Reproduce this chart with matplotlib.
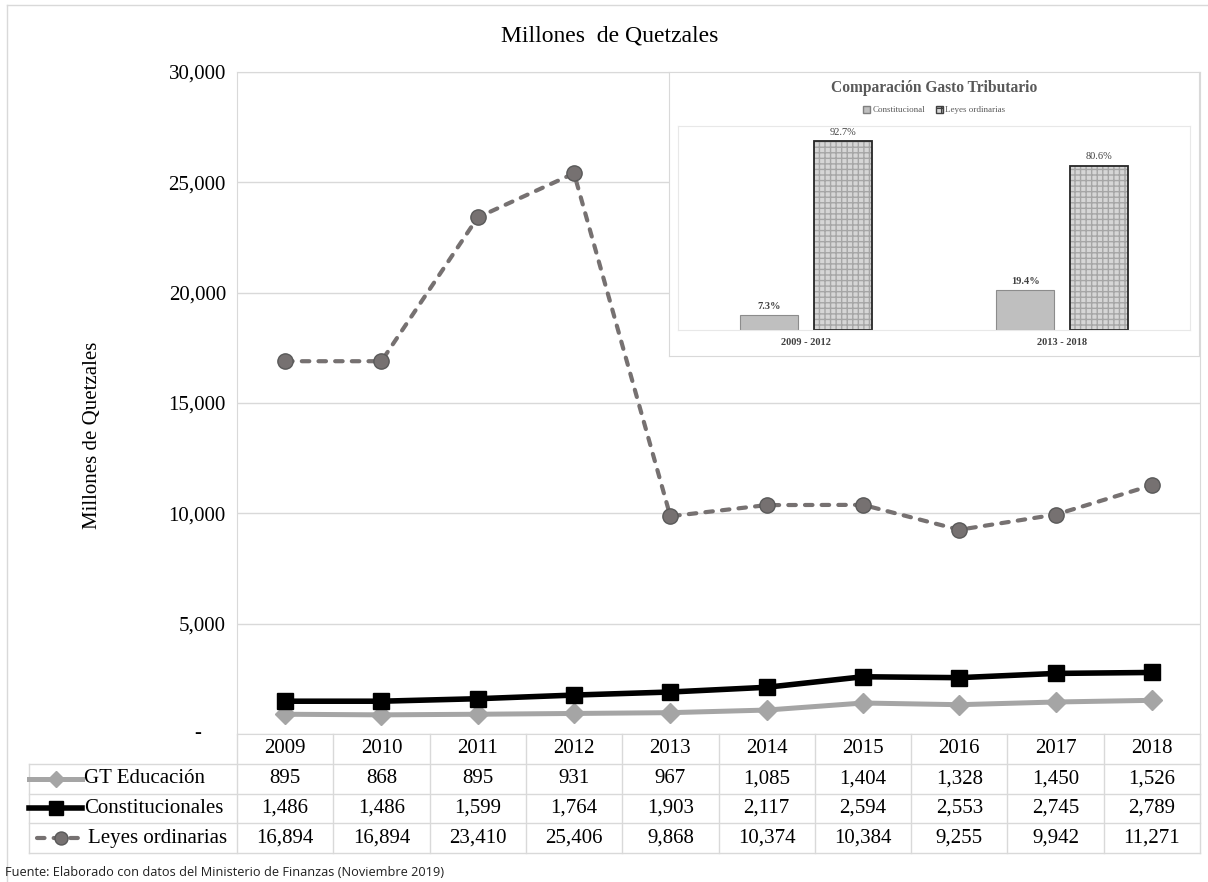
import numpy as np
import matplotlib.pyplot as plt
from matplotlib.lines import Line2D
from matplotlib.patches import Patch
from matplotlib.ticker import FuncFormatter, MultipleLocator

# --- data ---
years = ['2009', '2010', '2011', '2012', '2013', '2014', '2015', '2016', '2017', '2018']
gt_educacion = [895, 868, 895, 931, 967, 1085, 1404, 1328, 1450, 1526]
constitucionales = [1486, 1486, 1599, 1764, 1903, 2117, 2594, 2553, 2745, 2789]
leyes_ordinarias = [16894, 16894, 23410, 25406, 9868, 10374, 10384, 9255, 9942, 11271]

periodos = ['2009 - 2012', '2013 - 2018']
pct_constitucional = [7.3, 19.4]
pct_leyes = [92.7, 80.6]

W, H = 1208, 882


def box(x0, y0, x1, y1):
    """pixel box (top-left origin) -> figure rect"""
    return [x0 / W, 1 - y1 / H, (x1 - x0) / W, (y1 - y0) / H]


plt.rcParams['font.family'] = ['Liberation Serif', 'DejaVu Serif']
fig = plt.figure(figsize=(W / 100, H / 100), dpi=100)

# outer chart frame
fig.add_artist(Line2D([7 / W, 7 / W], [0, 1 - 5 / H], color='#d9d9d9', lw=1, transform=fig.transFigure))
fig.add_artist(Line2D([7 / W, 1], [1 - 5 / H, 1 - 5 / H], color='#d9d9d9', lw=1, transform=fig.transFigure))

# --- main line chart ---
AX_L, AX_T, AX_R, AX_B = 237, 72, 1200, 734
ax = fig.add_axes(box(AX_L, AX_T, AX_R, AX_B))
x = np.arange(len(years))

styles = {
    'GT Educación': dict(color='#a5a5a5', lw=3.6, marker='D', ms=10, mfc='#a5a5a5', mec='#a5a5a5'),
    'Constitucionales': dict(color='black', lw=4, marker='s', ms=12, mfc='black', mec='black'),
    'Leyes ordinarias': dict(color='#767171', lw=3, ls=(0, (1.8, 2.2)), dash_capstyle='round',
                             marker='o', ms=11, mfc='#767171', mec='#595959', mew=1),
}
series = [('GT Educación', gt_educacion), ('Constitucionales', constitucionales),
          ('Leyes ordinarias', leyes_ordinarias)]
for name, vals in series:
    ax.plot(x, vals, zorder=3, **styles[name])

ax.set_xlim(-0.5, len(years) - 0.5)
ax.set_ylim(0, 30000)
ax.yaxis.set_major_locator(MultipleLocator(5000))
ax.yaxis.set_major_formatter(FuncFormatter(lambda v, p: f'{int(v):,}' if v else ''))
ax.grid(axis='y', color='#d9d9d9', lw=1)
ax.set_axisbelow(True)
ax.set_xticks([])
ax.tick_params(axis='y', length=0, pad=8, labelsize=15)
for sp in ax.spines.values():
    sp.set_color('#d9d9d9')
ax.text((198 - AX_L) / (AX_R - AX_L), 0, '-', transform=ax.get_yaxis_transform(),
        ha='center', va='center', fontsize=15)

# --- data table under the chart ---
row_h = 29.75 / (AX_B - AX_T)
lab_x0 = (29 - AX_L) / (AX_R - AX_L)
tcol = '#d9d9d9'
xt = ax.get_xaxis_transform()
kw = dict(color=tcol, lw=1, clip_on=False)
for k in range(1, 5):
    ax.plot([lab_x0, 1], [-k * row_h] * 2, transform=ax.transAxes, **kw)
ax.plot([lab_x0, lab_x0], [-row_h, -4 * row_h], transform=ax.transAxes, **kw)
for i in range(len(years) + 1):
    ax.plot([i - 0.5] * 2, [0, -4 * row_h], transform=xt, **kw)

for i, yr in enumerate(years):
    ax.text(i, -0.5 * row_h, yr, transform=xt, ha='center', va='center', fontsize=15)
for r, (name, vals) in enumerate(series, start=1):
    yc = -(r + 0.5) * row_h
    for i, v in enumerate(vals):
        ax.text(i, yc, f'{v:,}', transform=xt, ha='center', va='center', fontsize=15)
    # legend key in row label
    k0 = (29 - AX_L) / (AX_R - AX_L)
    k1 = (82 - AX_L) / (AX_R - AX_L)
    st = dict(styles[name])
    st['ms'] = st['ms'] * 0.85
    if name == 'Leyes ordinarias':
        k0 = (37 - AX_L) / (AX_R - AX_L)
        k1 = (85 - AX_L) / (AX_R - AX_L)
    km = (k0 + k1) / 2
    ax.plot([k0, km, k1], [yc] * 3, transform=ax.transAxes, clip_on=False, markevery=[1], **st)
    tx = (84 if name != 'Leyes ordinarias' else 88)
    ax.text((tx - AX_L) / (AX_R - AX_L), yc, name, transform=ax.transAxes,
            ha='left', va='center', fontsize=15)

# titles
fig.text(610 / W, 1 - 36 / H, 'Millones  de Quetzales', ha='center', va='center', fontsize=17)
fig.text(93 / W, 1 - 435 / H, 'Millones de Quetzales', ha='center', va='center',
         rotation=90, fontsize=15)
fig.text(5 / W, 1 - 872 / H, 'Fuente: Elaborado con datos del Ministerio de Finanzas (Noviembre 2019)',
         family='Open Sans', fontsize=9.2, color='#202020', ha='left', va='center')

# --- inset bar chart ---
bg = fig.add_axes(box(669, 72, 1199, 356), zorder=3)
bg.set_xticks([])
bg.set_yticks([])
for sp in bg.spines.values():
    sp.set_color('#d9d9d9')

ain = fig.add_axes(box(678, 126, 1190, 330), zorder=4)
xi = np.arange(len(periodos))
off, w = 0.1426, 0.2266
ain.bar(xi - off, pct_constitucional, w, color='#bfbfbf', edgecolor='#8c8c8c', lw=0.8)
ain.bar(xi + off, pct_leyes, w, color='#d6d6d6', edgecolor='#a6a6a6', lw=0, hatch='+++')
ain.bar(xi + off, pct_leyes, w, fill=False, edgecolor='#262626', lw=1.3)
for xv, v in zip(xi - off, pct_constitucional):
    ain.text(xv, v + 2, f'{v}%', ha='center', va='bottom', fontsize=7.5,
             fontweight='bold', color='#404040')
for xv, v in zip(xi + off, pct_leyes):
    ain.text(xv, v + 2, f'{v}%', ha='center', va='bottom', fontsize=7.5, color='#404040')
ain.set_xlim(-0.5, 1.5)
ain.set_ylim(0, 100)
ain.set_yticks([])
ain.set_xticks(xi, periodos)
ain.tick_params(axis='x', length=0, pad=6, labelsize=7.5, labelcolor='#404040')
for lbl in ain.get_xticklabels():
    lbl.set_fontweight('bold')
for sp in ain.spines.values():
    sp.set_color('#e8e8e8')

fig.text(934 / W, 1 - 88 / H, 'Comparación Gasto Tributario', ha='center', va='center',
         fontsize=11.2, fontweight='bold', color='#595959', zorder=10)
handles = [Patch(facecolor='#bfbfbf', edgecolor='#7f7f7f', label='Constitucional'),
           Patch(facecolor='#d6d6d6', edgecolor='#404040', hatch='+++', label='Leyes ordinarias')]
leg = fig.legend(handles=handles, loc='center', bbox_to_anchor=(934 / W, 1 - 110 / H), ncol=2,
                 fontsize=6.5, frameon=False, handlelength=0.8, handleheight=0.8,
                 handletextpad=0.2, columnspacing=1.2, labelcolor='#595959')
leg.set_zorder(10)

fig.savefig('out.png', dpi=100)
